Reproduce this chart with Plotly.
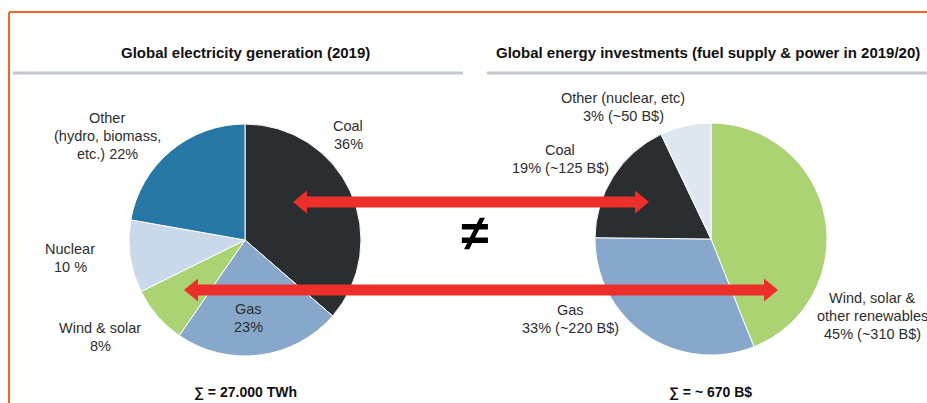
import plotly.graph_objects as go

W, H = 927, 403

# ---- data ----
gen_labels = ["Coal", "Gas", "Wind & solar", "Nuclear", "Other (hydro, biomass, etc.)"]
gen_values = [36, 23, 8, 10, 22]          # % of global electricity generation 2019
gen_colors = ["#2b2e31", "#88a8cb", "#acd373", "#c9d9ea", "#2677a3"]

inv_labels = ["Wind, solar & other renewables", "Gas", "Coal", "Other (nuclear, etc)"]
inv_values = [310, 220, 125, 50]          # B$ investments 2019/20
inv_pct = [45, 33, 19, 3]
inv_colors = ["#acd373", "#88a8cb", "#2b2e31", "#dfe8f0"]

gen_total = "∑ = 27.000 TWh"
inv_total = "∑ = ~ 670 B$"

# ---- layout helpers ----
R = 116
def dom(cx, cy):
    return dict(x=[(cx - R) / W, (cx + R) / W], y=[(H - cy - R) / H, (H - cy + R) / H])

fig = go.Figure()
fig.add_trace(go.Pie(labels=gen_labels, values=gen_values, sort=False, direction="clockwise",
                     rotation=0, marker=dict(colors=gen_colors, line=dict(color="white", width=1)),
                     textinfo="none", hoverinfo="label+percent", domain=dom(245, 240), showlegend=False))
fig.add_trace(go.Pie(labels=inv_labels, values=inv_values, sort=False, direction="clockwise",
                     rotation=0, marker=dict(colors=inv_colors, line=dict(color="white", width=1)),
                     textinfo="none", hoverinfo="label+value", domain=dom(711, 239), showlegend=False))

# invisible pixel-space axes for decorations
fig.add_trace(go.Scatter(x=[0, W], y=[0, H], mode="markers", marker=dict(opacity=0),
                         hoverinfo="skip", showlegend=False))

FONT = "Liberation Sans, Arial, sans-serif"
TXT = "#2e2e2e"
ann = []
def label(x, ys, lines, size=14.5, bold=False, color=TXT):
    for y, t in zip(ys, lines):
        if bold:
            t = "<b>" + t + "</b>"
        ann.append(dict(x=x, y=y, xref="x", yref="y", text=t, showarrow=False,
                        font=dict(family=FONT, size=size, color=color),
                        xanchor="center", yanchor="middle", align="center"))

label(245, [52], ["Global electricity generation (2019)"], size=15, bold=True, color="#111")
label(708, [52], ["Global energy investments (fuel supply & power in 2019/20)"], size=15, bold=True, color="#111")

label(107, [118, 136, 154], ["Other", "(hydro, biomass,", f"etc.) {gen_values[4]}%"])
label(348, [126, 144], [gen_labels[0], f"{gen_values[0]}%"])
label(70, [249, 267], [gen_labels[3], f"{gen_values[3]} %"])
label(100, [328, 346], [gen_labels[2], f"{gen_values[2]}%"])
label(248, [309, 327], [gen_labels[1], f"{gen_values[1]}%"])

label(623, [98, 116], [inv_labels[3], f"{inv_pct[3]}% (~{inv_values[3]} B$)"])
label(560, [150, 168], [inv_labels[2], f"{inv_pct[2]}% (~{inv_values[2]} B$)"])
label(570, [310, 328], [inv_labels[1], f"{inv_pct[1]}% (~{inv_values[1]} B$)"])
label(872, [298, 316, 334], ["Wind, solar &", "other renewables", f"{inv_pct[0]}% (~{inv_values[0]} B$)"])

label(245, [392], [gen_total], size=14, bold=True, color="#111")
label(710, [392], [inv_total], size=14, bold=True, color="#111")
label(474, [233], ["≠"], size=50, bold=True, color="#000")

shapes = []
# orange frame
shapes.append(dict(type="line", xref="x", yref="y", x0=9, y0=12, x1=W, y1=12,
                   line=dict(color="#f26522", width=2)))
shapes.append(dict(type="line", xref="x", yref="y", x0=9, y0=12, x1=9, y1=H,
                   line=dict(color="#f26522", width=2)))
# gray title rules
shapes.append(dict(type="line", xref="x", yref="y", x0=13, y0=73, x1=463, y1=73,
                   line=dict(color="#c3c7d2", width=3)))
shapes.append(dict(type="line", xref="x", yref="y", x0=487, y0=73, x1=W, y1=73,
                   line=dict(color="#c3c7d2", width=3)))

def darrow(x0, x1, y, sh=5.5, hh=11.5, hl=14):
    p = (f"M{x0},{y} L{x0+hl},{y-hh} L{x0+hl},{y-sh} L{x1-hl},{y-sh} L{x1-hl},{y-hh} "
         f"L{x1},{y} L{x1-hl},{y+hh} L{x1-hl},{y+sh} L{x0+hl},{y+sh} L{x0+hl},{y+hh} Z")
    shapes.append(dict(type="path", xref="x", yref="y", path=p,
                       fillcolor="#ec2f2b", line=dict(width=0)))

darrow(293, 649, 202)
darrow(184, 778, 290)

fig.update_layout(
    width=W, height=H, margin=dict(l=0, r=0, t=0, b=0),
    paper_bgcolor="white", plot_bgcolor="rgba(0,0,0,0)",
    xaxis=dict(range=[0, W], visible=False, fixedrange=True, domain=[0, 1]),
    yaxis=dict(range=[H, 0], visible=False, fixedrange=True, domain=[0, 1]),
    annotations=ann, shapes=shapes, showlegend=False,
)

fig.write_html("out.html", config={"displayModeBar": False},
               post_script="document.body.style.margin='0';document.body.style.overflow='hidden';")
